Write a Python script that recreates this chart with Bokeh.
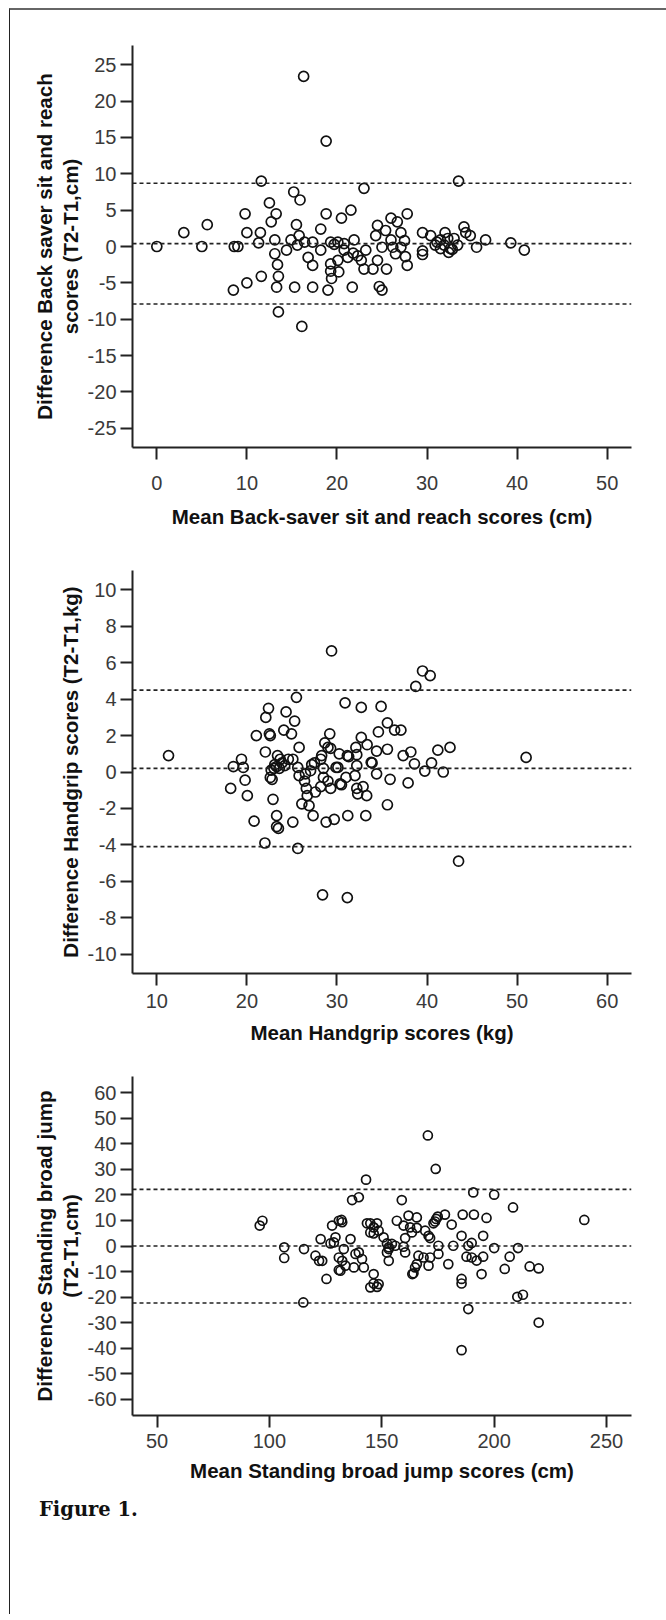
from bokeh.plotting import figure
from bokeh.models import Range1d, FixedTicker, Span, Title, Div
from bokeh.layouts import column
from bokeh.embed import file_html
from bokeh.resources import INLINE

# ---------------- data: Back-saver sit and reach ----------------
bsr_mean = [0, 3.0, 5.0, 5.6, 8.5, 8.6, 9.0, 9.8, 10.0, 10.0, 11.3, 11.5, 11.6, 11.6,
            12.5, 12.7, 13.1, 13.1, 13.25, 13.3, 13.4, 13.5, 13.5, 14.4, 14.9, 15.2,
            15.3, 15.5, 15.6, 15.8, 15.9, 16.1, 16.3, 16.4, 16.8, 17.3, 17.3, 17.3,
            18.2, 18.2, 18.8, 18.8, 19.0, 19.3, 19.3, 19.4, 19.3, 19.7, 20.1, 20.2,
            20.1, 20.5, 20.8, 20.8, 21.2, 21.55, 21.7, 21.8, 21.9, 22.3, 22.7, 23.0,
            23.0, 23.2, 24.0, 24.3, 24.5, 24.5, 24.7, 25.0, 25.0, 25.4, 25.5, 26.0,
            26.0, 26.2, 26.5, 26.7, 27.1, 27.1, 27.5, 27.6, 27.8, 27.8, 29.5, 29.5,
            29.5, 30.4, 31.1, 31.5, 31.9, 32.0, 32.4, 32.3, 32.8, 33.0, 33.4, 33.5,
            34.1, 34.3, 34.8, 35.5, 36.5, 39.3, 40.8, 31.5, 32.6, 30.9]
bsr_diff = [0, 1.9, 0, 3.0, -6.0, 0, 0, 4.5, 1.9, -5.0, 0.5, 1.9, 9.0, -4.1,
            6.0, 3.4, 0.9, -1.0, 4.5, -5.6, -2.5, -4.1, -9.0, -0.5, 0.9, 7.5,
            -5.6, 3.0, 0.2, 1.5, 6.4, -11.0, 23.4, 0.6, -1.5, 0.6, -2.6, -5.6,
            -0.5, 2.4, 14.5, 4.5, -6.0, -2.4, -3.4, -4.4, 0.6, 0.3, 0.6, -3.5,
            -1.9, 3.9, -0.5, 0.4, -1.5, 5.0, -5.6, -0.9, 0.9, -1.3, -1.9, 8.0,
            -3.1, -0.5, -3.1, 1.5, 2.9, -1.9, -5.5, -6.0, -0.1, 2.2, -3.1, 3.9,
            0.9, -0.1, -1.0, 3.4, 1.9, -0.1, 0.8, -1.4, 4.5, -2.6, 1.9, -0.6,
            -1.1, 1.5, 0.6, -0.3, 0.2, 1.9, -0.8, 1.1, -0.4, 1.1, 0.2, 9.0,
            2.7, 1.9, 1.5, -0.1, 0.9, 0.5, -0.5, 0.9, -0.3, 0.2]
bsr_limits = [8.7, 0.4, -7.9]

# ---------------- data: Handgrip ----------------
hg_mean = [11.3, 18.2, 18.5, 19.4, 19.6, 19.8, 20.05, 20.8, 21.05, 22.0, 22.05, 22.1,
           22.4, 22.5, 22.6, 22.6, 22.8, 22.9, 23.3, 23.3, 23.5, 23.0, 23.3, 23.6,
           24.2, 23.4, 23.7, 24.35, 24.1, 24.95, 24.6, 25.1, 25.3, 25.5, 25.8, 25.1,
           25.65, 25.8, 25.65, 26.1, 26.4, 26.6, 26.7, 26.9, 27.35, 27.2, 27.5, 28.2,
           27.6, 28.2, 28.5, 28.5, 28.4, 28.8, 28.65, 29.2, 29.3, 29.4, 29.0, 29.3,
           29.7, 30.1, 30.25, 30.35, 30.5, 30.9, 31.0, 31.15, 31.2, 31.3, 32.0, 32.1,
           32.2, 32.2, 32.3, 32.7, 32.7, 32.9, 33.2, 33.3, 33.35, 33.9, 34.4, 34.4,
           34.6, 34.9, 35.6, 35.6, 35.6, 35.9, 36.4, 37.1, 37.35, 37.9, 38.2, 38.6,
           38.75, 39.5, 39.75, 40.35, 40.5, 41.2, 41.8, 42.55, 43.5, 51.0,
           22.7, 23.1, 23.9, 26.5, 27.07, 28.3, 29.0, 29.9, 31.15, 32.2, 33.8]
hg_diff = [0.9, -0.9, 0.3, 0.7, 0.25, -0.45, -1.3, -2.7, 2.0, -3.9, 1.1, 3.0,
           3.5, 2.1, 2.0, -0.3, -0.4, -1.5, -2.4, -3.0, -3.1, 0.2, 0.3, 0.2,
           0.35, 0.9, 0.7, 3.3, 2.3, 2.1, 0.7, 0.7, 2.8, 4.1, 1.35, -2.75,
           0.25, -0.2, -4.2, -1.75, -0.5, -0.9, -1.3, -1.85, -2.4, 0.4, 0.5, 0.7,
           -1.1, -0.8, -0.3, 0.2, -6.75, -2.75, 1.6, 2.1, 1.3, 6.65, -0.5, -0.9,
           -2.6, 0.25, 1.0, -0.65, -0.7, 3.8, -0.3, -6.9, -2.4, 0.85, -0.2, 1.35,
           0.95, -0.9, -1.2, 1.9, 3.55, -0.8, -2.4, -1.3, 1.5, 0.5, 1.15, -0.1,
           2.2, 3.6, 2.7, 1.25, -1.8, -0.4, 2.3, 2.3, 0.9, -0.6, 1.1, 0.45,
           4.7, 5.55, 0.05, 5.3, 0.5, 1.2, 0.0, 1.35, -4.9, 0.8,
           0.1, 0.4, 0.5, -0.1, 0.07, 0.9, 1.35, 0.25, 0.9, 0.35, 0.53]
hg_limits = [4.5, 0.2, -4.1]

# ---------------- data: Standing broad jump ----------------
sbj_mean = [95.7, 96.9, 106.6, 106.6, 115.4, 115.1, 120.5, 122.1, 123.5, 122.8, 125.4,
            127.9, 127.2, 128.7, 129.4, 130.9, 130.9, 130.9, 132.1, 132.4, 132.4, 133.8,
            131.6, 133.1, 136.1, 137.6, 138.3, 139.8, 141.2, 142.0, 136.8, 139.8, 143.0,
            143.4, 144.9, 146.4, 147.9, 148.6, 144.9, 146.4, 146.4, 146.4, 147.9, 144.9,
            148.6, 150.8, 152.3, 154.5, 153.1, 153.1, 152.3, 153.1, 156.0, 159.7, 160.4,
            156.7, 158.9, 161.9, 165.6, 159.7, 162.6, 165.6, 163.4, 160.4, 169.3, 170.8,
            171.5, 170.5, 174.0, 173.0, 174.2, 174.9, 173.7, 178.1, 181.1, 186.0, 191.0,
            196.6, 185.5, 190.0, 188.5, 195.1, 200.0, 210.6, 206.9, 204.7, 195.1, 192.2,
            190.0, 187.7, 194.4, 185.5, 185.5, 188.5, 185.5, 210.3, 212.8, 219.8, 215.8,
            219.8, 179.6, 175.2, 171.5, 170.8, 168.6, 166.3, 165.6, 164.8, 164.1, 163.6,
            181.8, 175.2, 190.7, 200.0, 208.4, 240.1]
sbj_diff = [8.0, 9.9, -0.5, -4.7, -1.2, -22.1, -3.8, -5.8, -5.8, 2.7, -12.9,
            8.0, 1.0, 1.4, 3.4, 9.9, -4.5, -9.4, 10.2, 9.3, -5.8, -7.7,
            -9.7, -1.2, 2.7, -8.4, -3.1, -2.5, -5.1, -8.4, 18.0, 19.1, 26.0,
            8.9, 8.9, 7.3, 8.9, 6.0, 5.3, 4.9, -11.0, -14.7, -16.0, -16.2,
            -14.9, 3.4, 1.0, 0.8, -1.2, -5.8, -2.5, -0.5, 0.1, -0.3, -2.5,
            9.9, 18.0, 11.9, 11.2, 8.0, 7.3, 7.1, 5.3, 3.1, 6.0, 4.0,
            3.1, 43.3, 30.2, 8.9, 10.6, 11.5, 9.6, 12.3, 8.4, 12.3, 12.3,
            11.0, 4.0, 1.2, 0.1, 4.0, -0.8, -0.8, -4.2, -9.0, -4.2, -5.7,
            -4.5, -4.2, -11.0, -12.9, -14.7, -24.7, -40.8, -19.9, -19.1, -30.0, -8.0,
            -8.8, -7.1, -3.1, -4.5, -7.7, -4.5, -3.8, -7.1, -8.4, -10.7, -11.0,
            0.1, 0.1, 21.0, 20.1, 15.1, 10.2]
sbj_limits = [22.2, 0.0, -22.3]

bsr_xticks = [0, 10, 20, 30, 40, 50]
bsr_yticks = [-25, -20, -15, -10, -5, 0, 5, 10, 15, 20, 25]
hg_xticks = [10, 20, 30, 40, 50, 60]
hg_yticks = [-10, -8, -6, -4, -2, 0, 2, 4, 6, 8, 10]
sbj_xticks = [50, 100, 150, 200, 250]
sbj_yticks = [-60, -50, -40, -30, -20, -10, 0, 10, 20, 30, 40, 50, 60]

FONT = "Liberation Sans"


def panel(xs, ys, limits, xr, yr, xticks, yticks, xlabel, ylines,
          height, left, right, top, bottom, msize, lab_off, title_off):
    p = figure(width=656, height=height, x_range=Range1d(*xr), y_range=Range1d(*yr),
               output_backend="svg", toolbar_location=None,
               min_border_left=left, min_border_right=right,
               min_border_top=top, min_border_bottom=bottom)
    p.grid.visible = False
    p.outline_line_color = None
    p.background_fill_color = "white"
    p.border_fill_color = "white"
    p.xaxis.ticker = FixedTicker(ticks=xticks)
    p.yaxis.ticker = FixedTicker(ticks=yticks)
    p.xaxis.major_label_overrides = {t: str(t) for t in xticks}
    p.yaxis.major_label_overrides = {t: str(t) for t in yticks}
    for ax in (p.xaxis, p.yaxis):
        ax.axis_line_width = 2
        ax.axis_line_color = "#222222"
        ax.major_tick_line_width = 2
        ax.major_tick_line_color = "#222222"
        ax.major_tick_out = 12
        ax.major_tick_in = 0
        ax.minor_tick_line_color = None
        ax.major_label_text_font = FONT
        ax.major_label_text_font_size = "20px"
        ax.major_label_text_color = "#3a3a3a"
        ax.axis_label_text_font = FONT
        ax.axis_label_text_font_size = "20.5px"
        ax.axis_label_text_font_style = "bold"
        ax.axis_label_text_color = "#111111"
    p.xaxis.major_label_standoff = lab_off
    p.xaxis.axis_label = xlabel
    p.xaxis.axis_label_standoff = title_off
    p.yaxis.major_label_standoff = 4
    p.yaxis.axis_label = ylines[-1]
    p.yaxis.axis_label_standoff = 3
    for line in reversed(ylines[:-1]):
        p.add_layout(Title(text=line, align="center", text_font=FONT,
                           text_font_size="20.5px", text_font_style="bold",
                           text_color="#111111", standoff=0), "left")
    for v in limits:
        p.add_layout(Span(location=v, dimension="width", line_color="#222222",
                          line_width=1.6, line_dash="4 3"))
    p.scatter(xs, ys, marker="circle", size=msize, fill_color=None,
              line_color="#111111", line_width=1.7)
    return p


p1 = panel(bsr_mean, bsr_diff, bsr_limits, (-2.7, 52.7), (-27.65, 27.65),
           bsr_xticks, bsr_yticks,
           "Mean Back-saver sit and reach scores (cm)",
           ["Difference Back saver sit and reach", "scores (T2-T1,cm)"],
           height=520, left=121, right=34, top=35, bottom=83, msize=10,
           lab_off=16, title_off=12)
p2 = panel(hg_mean, hg_diff, hg_limits, (7.3, 62.7), (-11.07, 11.07),
           hg_xticks, hg_yticks,
           "Mean Handgrip scores (kg)",
           ["Difference Handgrip scores (T2-T1,kg)"],
           height=520, left=122, right=12, top=40, bottom=77, msize=10,
           lab_off=8, title_off=10)
p3 = panel(sbj_mean, sbj_diff, sbj_limits, (39.1, 261.1), (-66.4, 66.4),
           sbj_xticks, sbj_yticks,
           "Mean Standing broad jump scores (cm)",
           ["Difference Standing broad jump", "(T2-T1,cm)"],
           height=440, left=119, right=35, top=26, bottom=75, msize=9,
           lab_off=6, title_off=8)

cap = Div(text="Figure 1.", width=300, height=118, margin=(6, 0, 0, 29),
          styles={"font-family": "DejaVu Serif", "font-weight": "bold",
                  "font-size": "19.5px", "color": "#111111"})

layout = column(p1, p2, p3, cap, spacing=0, margin=(8, 0, 0, 9),
                styles={"border-top": "2px solid #666666",
                        "border-left": "1px solid #222222"})

open("out.html", "w").write(file_html(layout, INLINE))
